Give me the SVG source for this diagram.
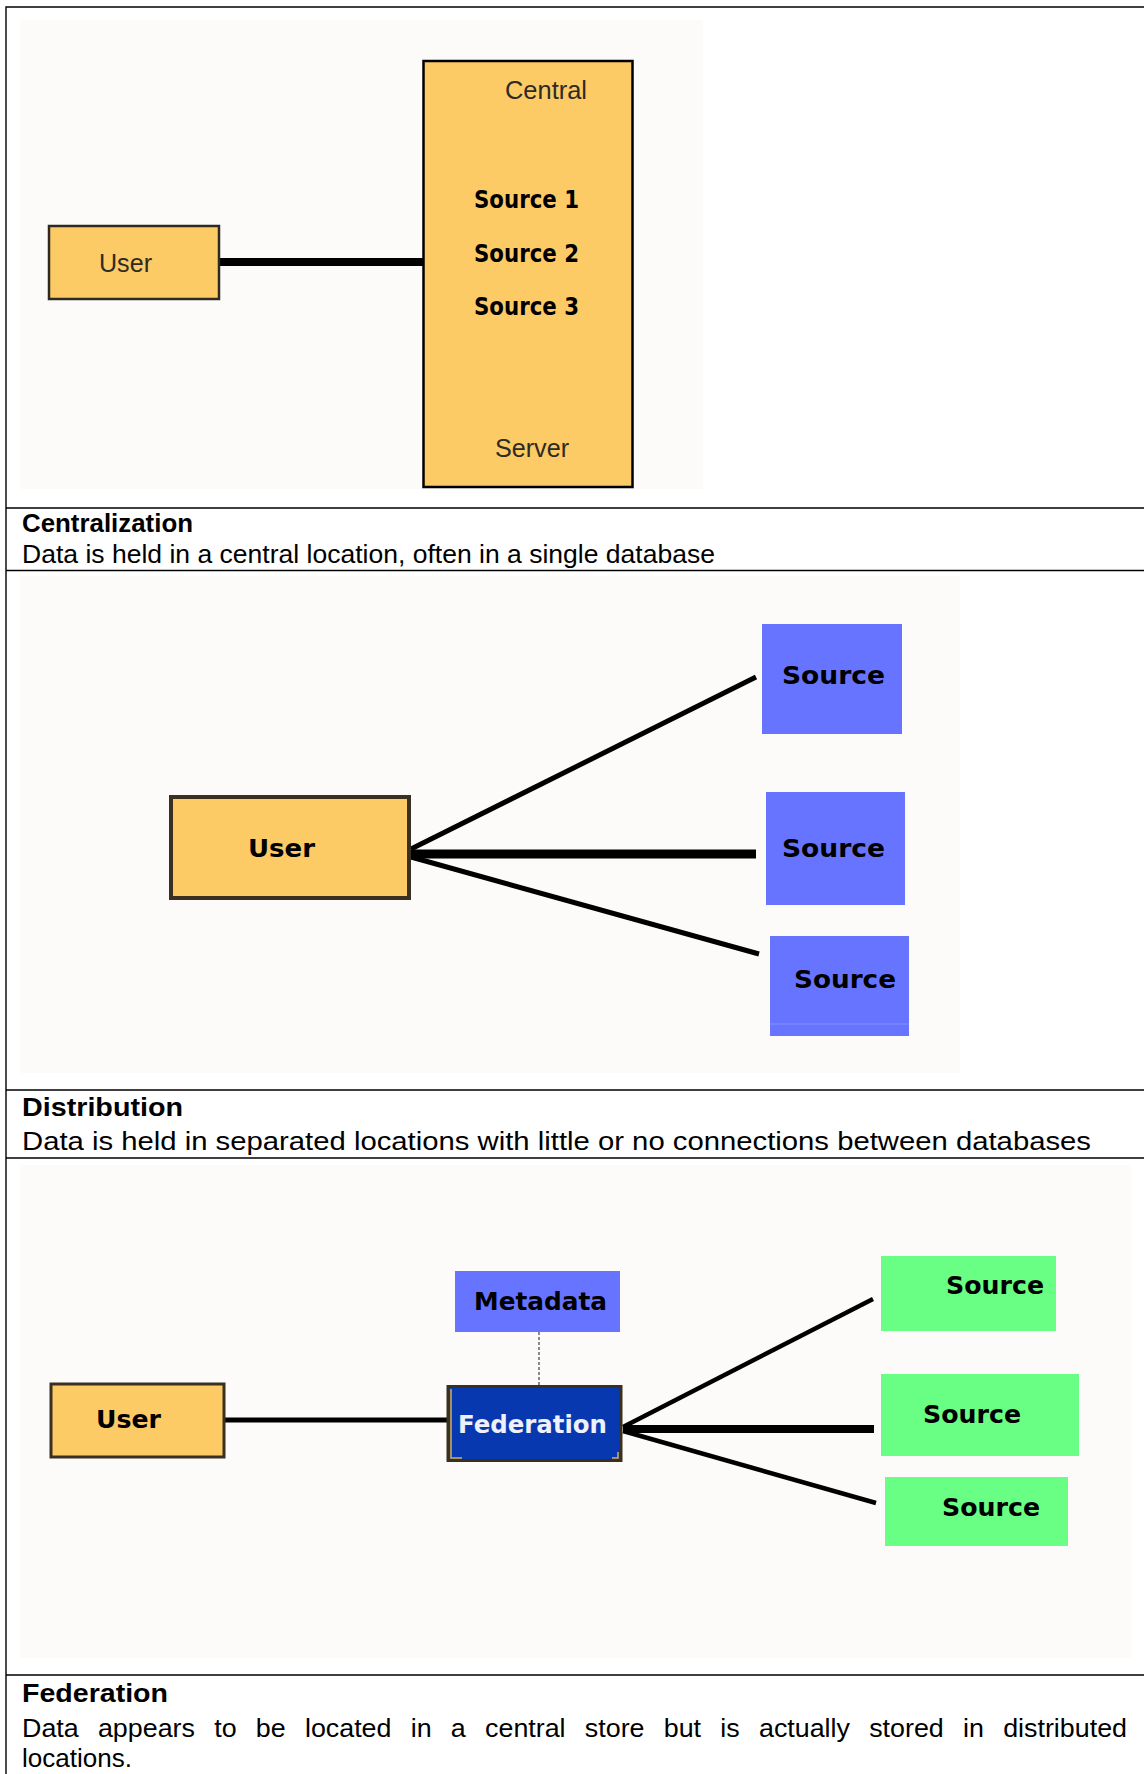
<svg xmlns="http://www.w3.org/2000/svg" width="1144" height="1774" viewBox="0 0 1144 1774">
<style>
.frame{stroke:#000;stroke-width:1.4;fill:none}
.bg{fill:#FCFBF9}
.cap{font-family:"Liberation Sans",Arial,sans-serif;font-size:25px;fill:#000}
.capb{font-family:"Liberation Sans",Arial,sans-serif;font-size:25px;font-weight:bold;fill:#000}
.thin{font-family:"Liberation Sans",Arial,sans-serif;font-size:26px;fill:#2e2a24}
.lbl{font-family:"DejaVu Sans",Verdana,sans-serif;font-weight:bold;font-size:24px;fill:#000}
.yellow{fill:#FCCB66}
.blue{fill:#6674FF}
.green{fill:#68FF84}
.conn{stroke:#000;fill:none;stroke-linecap:butt}
</style>
<rect x="0" y="0" width="1144" height="1774" fill="#fff"/>
<rect class="bg" x="20" y="20" width="683" height="469"/>
<rect class="bg" x="20" y="576" width="940" height="497"/>
<rect class="bg" x="20" y="1165" width="1111" height="493"/>

<g id="frame">
<path class="frame" d="M6 1774V7H1144"/>
<path class="frame" d="M6 508H1144M6 570.5H1144M6 1090H1144M6 1158H1144M6 1675H1144"/>
</g>

<g id="connectors">
<line class="conn" x1="219" y1="262" x2="424" y2="262" stroke-width="8"/>
<line class="conn" x1="411" y1="849" x2="756" y2="677" stroke-width="5"/>
<line class="conn" x1="411" y1="854" x2="756" y2="854" stroke-width="9"/>
<line class="conn" x1="411" y1="857" x2="759" y2="954" stroke-width="5"/>
<line class="conn" x1="225" y1="1420" x2="447" y2="1420" stroke="#2b2b2b" stroke-width="5"/>
<line x1="539" y1="1332" x2="539" y2="1385" stroke="#8a8a8a" stroke-width="2" stroke-dasharray="3 2"/>
<line class="conn" x1="623" y1="1427" x2="873" y2="1299" stroke-width="4.5"/>
<line class="conn" x1="623" y1="1429" x2="874" y2="1429" stroke-width="8"/>
<line class="conn" x1="623" y1="1431" x2="876" y2="1503" stroke-width="4.5"/>
</g>

<g id="c-user">
<rect class="yellow" x="49" y="226" width="170" height="73" stroke="#2e2a22" stroke-width="2.5"/>
<text class="thin" x="99" y="272" textLength="53" lengthAdjust="spacingAndGlyphs">User</text>
</g>
<g id="c-central">
<rect class="yellow" x="423.5" y="61" width="209" height="426" stroke="#000" stroke-width="2.5"/>
<text class="thin" x="505" y="99" textLength="82" lengthAdjust="spacingAndGlyphs">Central</text>
<text class="lbl" x="474" y="208" font-size="22" textLength="105" lengthAdjust="spacingAndGlyphs">Source 1</text>
<text class="lbl" x="474" y="261.5" font-size="22" textLength="105" lengthAdjust="spacingAndGlyphs">Source 2</text>
<text class="lbl" x="474" y="315" font-size="22" textLength="105" lengthAdjust="spacingAndGlyphs">Source 3</text>
<text class="thin" x="495" y="457" textLength="74" lengthAdjust="spacingAndGlyphs">Server</text>
</g>

<g id="caption-1">
<text class="capb" x="22" y="532" textLength="171" lengthAdjust="spacingAndGlyphs">Centralization</text>
<text class="cap" x="22" y="563" textLength="693" lengthAdjust="spacingAndGlyphs">Data is held in a central location, often in a single database</text>
</g>

<g id="d-user">
<rect class="yellow" x="171" y="797" width="238" height="101" stroke="#3a3020" stroke-width="4"/>
<text class="lbl" x="248" y="857" font-size="25" textLength="67" lengthAdjust="spacingAndGlyphs">User</text>
</g>
<g id="d-source-1">
<rect class="blue" x="762" y="624" width="140" height="110"/>
<text class="lbl" x="782" y="684" textLength="103" lengthAdjust="spacingAndGlyphs">Source</text>
</g>
<g id="d-source-2">
<rect class="blue" x="766" y="792" width="139" height="113"/>
<text class="lbl" x="782" y="857" textLength="103" lengthAdjust="spacingAndGlyphs">Source</text>
</g>
<g id="d-source-3">
<rect class="blue" x="770" y="936" width="139" height="100"/>
<line x1="770" y1="1024" x2="909" y2="1024" stroke="#8190ff" stroke-width="1"/>
<text class="lbl" x="794" y="988" textLength="102" lengthAdjust="spacingAndGlyphs">Source</text>
</g>

<g id="caption-2">
<text class="capb" x="22" y="1116" textLength="161" lengthAdjust="spacingAndGlyphs">Distribution</text>
<text class="cap" x="22" y="1150" textLength="1069" lengthAdjust="spacingAndGlyphs">Data is held in separated locations with little or no connections between databases</text>
</g>

<g id="f-user">
<rect class="yellow" x="51" y="1384" width="173" height="73" stroke="#3a3020" stroke-width="3"/>
<text class="lbl" x="96" y="1428" font-size="25" textLength="65" lengthAdjust="spacingAndGlyphs">User</text>
</g>
<g id="f-metadata">
<rect class="blue" x="455" y="1271" width="165" height="61"/>
<text class="lbl" x="474" y="1310" textLength="133" lengthAdjust="spacingAndGlyphs">Metadata</text>
</g>
<g id="f-federation">
<rect x="448" y="1386.5" width="173" height="74" fill="#0838B0" stroke="#3a3020" stroke-width="3"/>
<path d="M451 1389V1458H462M618 1452V1458H612" fill="none" stroke="#d8b04a" stroke-width="1.5"/>
<text x="458" y="1433" font-family="'DejaVu Sans',Verdana,sans-serif" font-weight="bold" font-size="25" fill="#EEF0FA" textLength="149" lengthAdjust="spacingAndGlyphs">Federation</text>
</g>
<g id="f-source-1">
<rect class="green" x="881" y="1256" width="175" height="75"/>
<text class="lbl" x="946" y="1294" textLength="98" lengthAdjust="spacingAndGlyphs">Source</text>
</g>
<g id="f-source-2">
<rect class="green" x="881" y="1374" width="198" height="82"/>
<text class="lbl" x="923" y="1423" textLength="98" lengthAdjust="spacingAndGlyphs">Source</text>
</g>
<g id="f-source-3">
<rect class="green" x="885" y="1477" width="183" height="69"/>
<text class="lbl" x="942" y="1516" textLength="98" lengthAdjust="spacingAndGlyphs">Source</text>
</g>

<g id="caption-3">
<text class="capb" x="22" y="1702" textLength="146" lengthAdjust="spacingAndGlyphs">Federation</text>
<text class="cap" x="22" y="1737" word-spacing="11" textLength="1105" lengthAdjust="spacingAndGlyphs">Data appears to be located in a central store but is actually stored in distributed</text>
<text class="cap" x="22" y="1767" textLength="110" lengthAdjust="spacingAndGlyphs">locations.</text>
</g>
</svg>
